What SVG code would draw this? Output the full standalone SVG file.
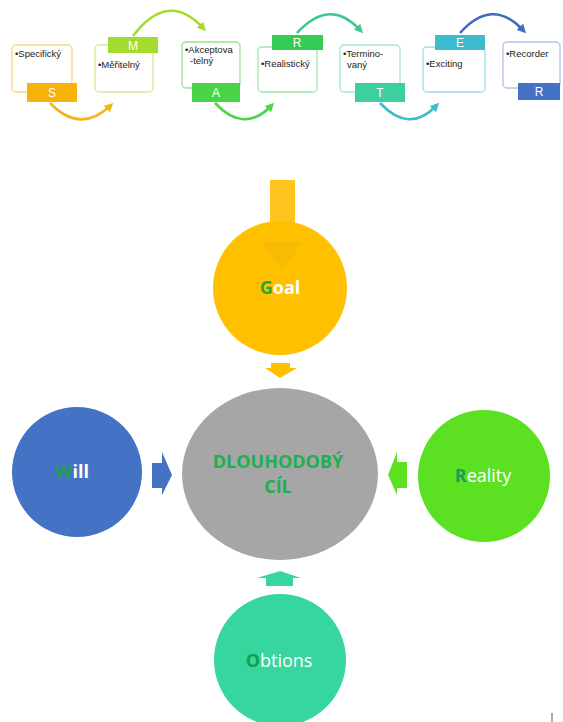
<svg xmlns="http://www.w3.org/2000/svg" width="563" height="722" viewBox="0 0 563 722">
<defs>
<style>
.box{fill:#fff;stroke-width:1.3}
.tab{stroke:none}
.tl{font-family:"Liberation Sans",Arial,sans-serif;font-size:12px;fill:#fff;text-anchor:middle}
.bt{font-family:"Liberation Sans",Arial,sans-serif;font-size:9.5px;fill:#222}
.arc{fill:none;stroke-width:2.6}
.big{font-family:"Open Sans","Liberation Sans",sans-serif;font-size:18px;text-anchor:middle}
.hl{fill:#22A83A}
.w{fill:#fff}
</style>
<marker id="mo" viewBox="0 0 10 10" refX="5" refY="5" markerWidth="3.4" markerHeight="3.4" orient="auto"><path d="M0,0 L10,5 L0,10 z" fill="#F5B41A"/></marker>
<marker id="my" viewBox="0 0 10 10" refX="5" refY="5" markerWidth="3.4" markerHeight="3.4" orient="auto"><path d="M0,0 L10,5 L0,10 z" fill="#A3DC2E"/></marker>
<marker id="mg" viewBox="0 0 10 10" refX="5" refY="5" markerWidth="3.4" markerHeight="3.4" orient="auto"><path d="M0,0 L10,5 L0,10 z" fill="#4CD448"/></marker>
<marker id="mt" viewBox="0 0 10 10" refX="5" refY="5" markerWidth="3.4" markerHeight="3.4" orient="auto"><path d="M0,0 L10,5 L0,10 z" fill="#3ACB8C"/></marker>
<marker id="mc" viewBox="0 0 10 10" refX="5" refY="5" markerWidth="3.4" markerHeight="3.4" orient="auto"><path d="M0,0 L10,5 L0,10 z" fill="#3CBCCC"/></marker>
<marker id="mb" viewBox="0 0 10 10" refX="5" refY="5" markerWidth="3.4" markerHeight="3.4" orient="auto"><path d="M0,0 L10,5 L0,10 z" fill="#3E6CC2"/></marker>
</defs>
<rect width="563" height="722" fill="#fff"/>

<g id="connectors">
<path class="arc" stroke="#F5B41A" d="M50 103 Q80 134 110 106" marker-end="url(#mo)"/>
<path class="arc" stroke="#A3DC2E" d="M133 36 Q168 -10 203 28" marker-end="url(#my)"/>
<path class="arc" stroke="#4CD448" d="M215 103 Q244 134 271 106" marker-end="url(#mg)"/>
<path class="arc" stroke="#3ACB8C" d="M297 33 Q330 -3 360 30" marker-end="url(#mt)"/>
<path class="arc" stroke="#3CBCCC" d="M380 103 Q409 134 436 106" marker-end="url(#mc)"/>
<path class="arc" stroke="#3E6CC2" d="M460 33 Q492 -3 523 30" marker-end="url(#mb)"/>
<polygon fill="#FFC000" points="271,363 290,363 290,368 297,368 280,378 265,368 271,368"/>
<polygon fill="#4472C4" points="152,463 162,463 162,452 172,475 162,495 162,488 152,488"/>
<polygon fill="#5CE022" points="407,462 397,462 397,452 388,475 397,495 397,488 407,488"/>
<polygon fill="#36D69E" points="266,586 293,586 293,578 301,578 280,571 257,578 266,578"/>
</g>

<g id="s">
<rect class="box" x="12" y="45" width="60" height="47" rx="4" stroke="#F8D880"/>
<text class="bt" x="15" y="57">•Specifický</text>
<rect class="tab" x="27" y="83" width="50" height="19" fill="#F7B20A"/>
<text class="tl" x="52" y="97">S</text>
</g>
<g id="m">
<rect class="box" x="95" y="45" width="58" height="47" rx="4" stroke="#D2EC98"/>
<text class="bt" x="98" y="68">•Měřitelný</text>
<rect class="tab" x="108" y="37" width="50" height="16" fill="#A3DC2E"/>
<text class="tl" x="133" y="50">M</text>
</g>
<g id="a">
<rect class="box" x="182" y="42" width="58" height="46" rx="4" stroke="#94E394"/>
<text class="bt" x="185" y="53">•Akceptova</text>
<text class="bt" x="190" y="64">-telný</text>
<rect class="tab" x="192" y="83" width="48" height="19" fill="#4CD448"/>
<text class="tl" x="216" y="97">A</text>
</g>
<g id="r1">
<rect class="box" x="258" y="47" width="59" height="45" rx="4" stroke="#A0E6AE"/>
<text class="bt" x="261" y="67">•Realistický</text>
<rect class="tab" x="272" y="35" width="51" height="15" fill="#33CC55"/>
<text class="tl" x="297" y="47">R</text>
</g>
<g id="t">
<rect class="box" x="340" y="45" width="60" height="47" rx="4" stroke="#A2E8CE"/>
<text class="bt" x="343" y="57">•Termino-</text>
<text class="bt" x="347" y="68">vaný</text>
<rect class="tab" x="355" y="83" width="50" height="19" fill="#3DCFA0"/>
<text class="tl" x="380" y="97">T</text>
</g>
<g id="e">
<rect class="box" x="423" y="47" width="62" height="45" rx="4" stroke="#A0DCE6"/>
<text class="bt" x="426" y="67">•Exciting</text>
<rect class="tab" x="435" y="35" width="50" height="15" fill="#3CBCCC"/>
<text class="tl" x="460" y="47">E</text>
</g>
<g id="r2">
<rect class="box" x="503" y="42" width="57" height="46" rx="4" stroke="#AEC2E6"/>
<text class="bt" x="506" y="57">•Recorder</text>
<rect class="tab" x="518" y="83" width="42" height="17" fill="#4472C4"/>
<text class="tl" x="539" y="96">R</text>
</g>

<g id="goal">
<rect x="270" y="180" width="25" height="45" fill="#FFC41E"/>
<circle cx="280" cy="288" r="67" fill="#FFC000"/>
<polygon points="262,242 303,242 282,270" fill="#E8B20C" opacity="0.35"/>
<text class="big" x="280" y="294" font-weight="bold"><tspan class="hl">G</tspan><tspan class="w">oal</tspan></text>
</g>

<g id="center">
<ellipse cx="280" cy="474" rx="98" ry="86" fill="#A6A6A6"/>
<text class="big" x="278" y="468" font-weight="bold" fill="#1DB04E">DLOUHODOBÝ</text>
<text class="big" x="278" y="493" font-weight="bold" fill="#1DB04E">CÍL</text>
</g>

<g id="will">
<circle cx="77" cy="472" r="65" fill="#4472C4"/>
<text class="big" x="72" y="478" font-weight="bold" font-size="17"><tspan fill="#1FA050">W</tspan><tspan class="w">ill</tspan></text>
</g>

<g id="reality">
<circle cx="484" cy="476" r="66" fill="#5CE022"/>
<text class="big" x="483" y="482"><tspan fill="#1E9E50" font-weight="bold">R</tspan><tspan class="w">eality</tspan></text>
</g>

<g id="obtions">
<circle cx="280" cy="660" r="66" fill="#36D69E"/>
<text class="big" x="279" y="667"><tspan fill="#11A050" font-weight="bold">O</tspan><tspan class="w">btions</tspan></text>
</g>

<line x1="552" y1="713" x2="552" y2="722" stroke="#555" stroke-width="1"/>
</svg>
